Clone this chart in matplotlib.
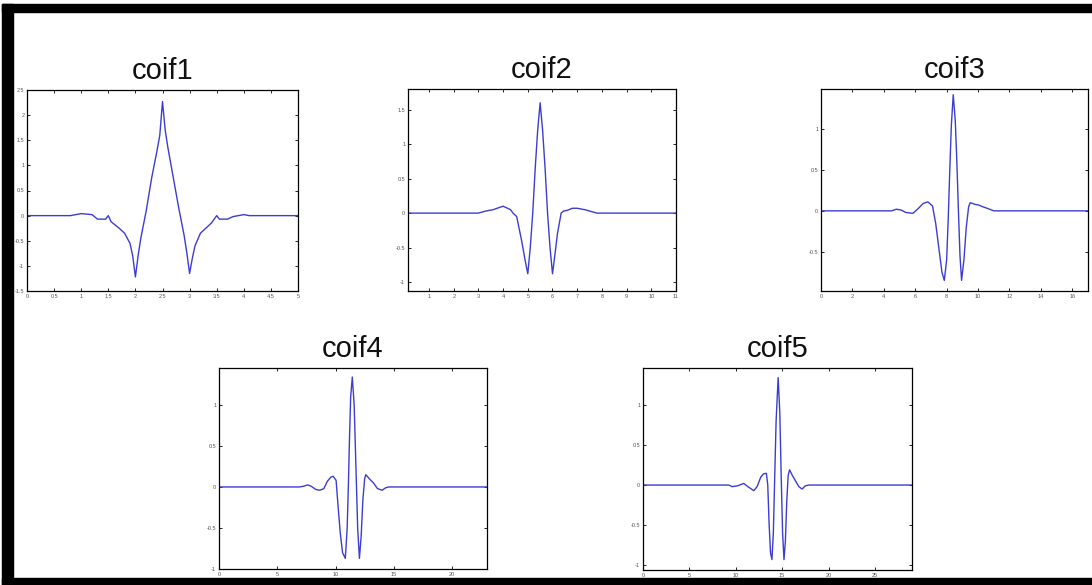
import matplotlib
matplotlib.use('Agg')
import matplotlib.pyplot as plt
from matplotlib.patches import Rectangle

plt.rcParams['font.family'] = ['Liberation Sans', 'DejaVu Sans']

# wavelet names
names = ['coif1', 'coif2', 'coif3', 'coif4', 'coif5']

# curve points (x, psi)
x1 = [0, 0.8, 1.0, 1.2, 1.3, 1.45, 1.5, 1.55, 1.7, 1.8, 1.9, 1.95, 2.0,
      2.05, 2.1, 2.2, 2.3, 2.4, 2.45, 2.5,
      2.55, 2.6, 2.7, 2.8, 2.9, 2.95, 3.0,
      3.05, 3.1, 3.2, 3.3, 3.4, 3.5, 3.55, 3.7, 3.8, 4.0, 4.1, 5.0]
y1 = [0, 0, 0.04, 0.02, -0.07, -0.07, 0.0, -0.12, -0.25, -0.35, -0.55, -0.8, -1.22,
      -0.8, -0.45, 0.1, 0.75, 1.3, 1.6, 2.27,
      1.7, 1.35, 0.75, 0.15, -0.4, -0.75, -1.15,
      -0.85, -0.6, -0.35, -0.25, -0.15, 0.0, -0.07, -0.07, -0.02, 0.02, 0.0, 0]

x2 = [0.15, 3.0, 3.3, 3.6, 4.0, 4.3, 4.4, 4.55, 4.75, 4.9, 5.0,
      5.1, 5.2, 5.3, 5.4, 5.5, 5.6, 5.7, 5.8, 5.9, 6.0,
      6.1, 6.2, 6.35, 6.45, 6.6, 6.8, 7.0, 7.3, 7.6, 7.8, 11]
y2 = [0, 0, 0.03, 0.05, 0.1, 0.05, 0.0, -0.05, -0.4, -0.7, -0.88,
      -0.5, 0.0, 0.65, 1.2, 1.6, 1.2, 0.65, 0.0, -0.5, -0.88,
      -0.6, -0.3, 0.0, 0.03, 0.04, 0.07, 0.07, 0.05, 0.02, 0.0, 0]

x3 = [0, 4.5, 4.8, 5.1, 5.4, 5.85, 6.2, 6.5, 6.8, 7.1, 7.3, 7.5, 7.7, 7.85,
      8.0, 8.1, 8.2, 8.3, 8.42, 8.55, 8.65, 8.75, 8.85, 8.95,
      9.1, 9.25, 9.4, 9.5, 9.8, 10.06, 10.3, 10.6, 11, 17]
y3 = [0, 0, 0.02, 0.01, -0.02, -0.03, 0.03, 0.09, 0.11, 0.06, -0.15, -0.45, -0.75, -0.85,
      -0.6, -0.1, 0.5, 1.05, 1.42, 1.1, 0.6, 0.0, -0.55, -0.85,
      -0.6, -0.2, 0.05, 0.1, 0.08, 0.07, 0.05, 0.03, 0.0, 0]

x4 = [0, 6.9, 7.3, 7.6, 7.9, 8.3, 8.65, 9.0, 9.3, 9.6, 9.8, 10.05, 10.2, 10.4, 10.6, 10.84,
      11.0, 11.1, 11.2, 11.3, 11.44, 11.6, 11.7, 11.8, 11.9, 12.05,
      12.2, 12.35, 12.5, 12.6, 12.9, 13.25, 13.6, 14.0, 14.3, 14.55, 23]
y4 = [0, 0, 0.01, 0.025, 0.01, -0.03, -0.04, -0.02, 0.07, 0.12, 0.13, 0.08, -0.2, -0.55, -0.8, -0.87,
      -0.5, 0.0, 0.6, 1.1, 1.34, 1.0, 0.5, 0.0, -0.5, -0.87,
      -0.6, -0.15, 0.1, 0.15, 0.1, 0.05, -0.02, -0.04, -0.01, 0, 0]

x5 = [0, 9.25, 9.6, 10.2, 10.86, 11.3, 11.94, 12.3, 12.7, 13.0, 13.3, 13.45, 13.6, 13.75, 13.9,
      14.05, 14.2, 14.35, 14.57, 14.75, 14.9, 15.05, 15.2,
      15.35, 15.5, 15.65, 15.8, 16.1, 16.4, 16.8, 17.15, 17.5, 17.9, 29]
y5 = [0, 0, -0.02, -0.01, 0.02, -0.02, -0.07, -0.02, 0.1, 0.14, 0.146, 0.0, -0.5, -0.85, -0.93,
      -0.6, 0.1, 0.8, 1.34, 0.9, 0.1, -0.6, -0.93,
      -0.7, -0.2, 0.12, 0.19, 0.12, 0.06, -0.02, -0.05, -0.01, 0, 0]

xs = [x1, x2, x3, x4, x5]
ys = [y1, y2, y3, y4, y5]

# axis limits and ticks
xlims = [(0, 5), (0.15, 11), (0, 17), (0, 23), (0, 29)]
ylims = [(-1.5, 2.5), (-1.13, 1.8), (-0.98, 1.49), (-1.0, 1.45), (-1.06, 1.46)]
xticks = [[0, 0.5, 1, 1.5, 2, 2.5, 3, 3.5, 4, 4.5, 5],
          [1, 2, 3, 4, 5, 6, 7, 8, 9, 10, 11],
          [0, 2, 4, 6, 8, 10, 12, 14, 16],
          [0, 5, 10, 15, 20],
          [0, 5, 10, 15, 20, 25]]
yticks = [[-1.5, -1, -0.5, 0, 0.5, 1, 1.5, 2, 2.5],
          [-1, -0.5, 0, 0.5, 1, 1.5],
          [-0.5, 0, 0.5, 1],
          [-1, -0.5, 0, 0.5, 1],
          [-1, -0.5, 0, 0.5, 1]]

W, H = 1092, 585
# axes boxes in pixels: left, right, top, bottom
boxes = [(27, 298, 90, 291), (408, 676, 89, 291), (821, 1088, 89, 291),
         (219, 487, 368, 569), (643, 912, 368, 570)]

fig = plt.figure(figsize=(W / 100, H / 100), dpi=100)


def fmt(v):
    return ('%g' % v)


for i in range(5):
    l, r, t, b = boxes[i]
    ax = fig.add_axes([l / W, (H - b) / H, (r - l) / W, (b - t) / H])
    ax.plot(xs[i], ys[i], color='#3c3cd2', lw=1.0)
    ax.set_xlim(xlims[i])
    ax.set_ylim(ylims[i])
    ax.set_xticks(xticks[i])
    ax.set_yticks(yticks[i])
    ax.set_xticklabels([fmt(v) for v in xticks[i]])
    ax.set_yticklabels([fmt(v) for v in yticks[i]])
    ax.tick_params(direction='in', length=2, width=0.6, labelsize=4, pad=2,
                   labelcolor='#555555', top=True, right=True)
    for s in ax.spines.values():
        s.set_linewidth(0.9)
    ax.set_title(names[i], fontsize=21, pad=8, color='#111111')

# black frame round the picture (no right side)
def px_rect(x0, y0, x1, y1):
    return Rectangle((x0 / W, (H - y1) / H), (x1 - x0) / W, (y1 - y0) / H,
                     transform=fig.transFigure, color='black', zorder=10)


fig.add_artist(px_rect(2, 4, W, 12))
fig.add_artist(px_rect(2, 4, 13, 585))
fig.add_artist(px_rect(2, 578, W, 585))

fig.savefig('out.png', dpi=100)
